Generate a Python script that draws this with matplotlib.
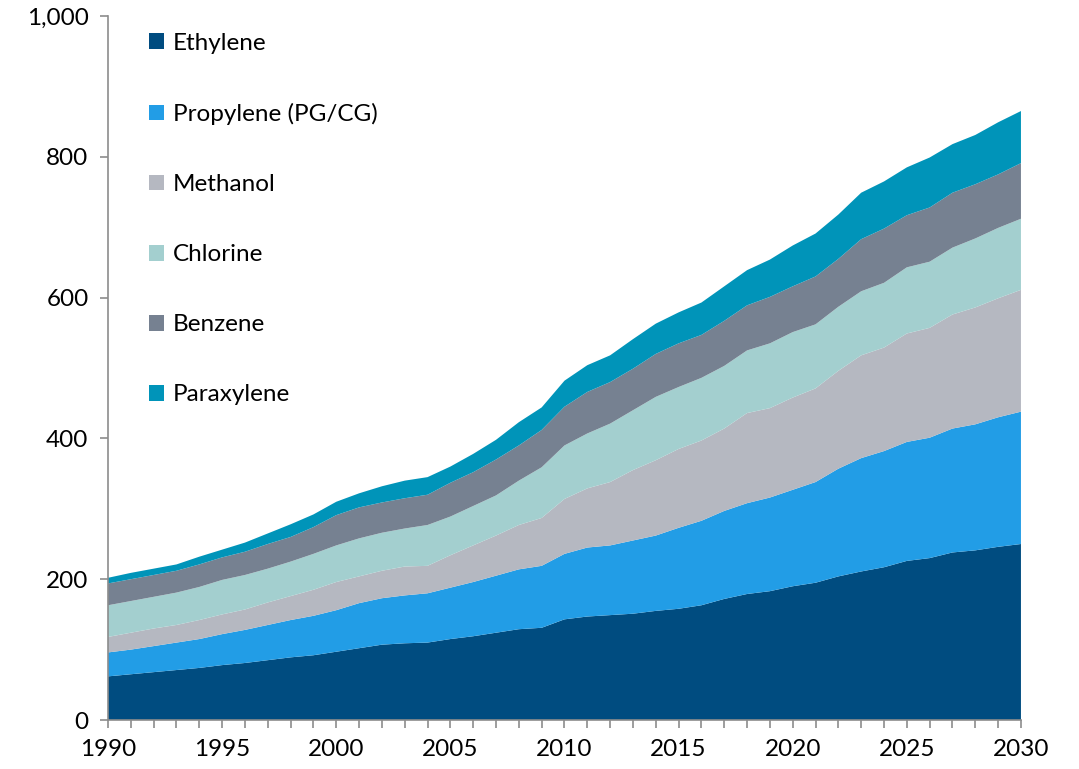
import numpy as np
import matplotlib
matplotlib.use("Agg")
import matplotlib.pyplot as plt
from matplotlib.patches import Patch
from matplotlib.ticker import FuncFormatter, MultipleLocator

plt.rcParams['font.family'] = ['Lato', 'DejaVu Sans']

years = list(range(1990, 2031))

ethylene = [62, 65, 68, 71, 74, 78, 81, 85, 89, 92, 97, 102, 107, 109, 110, 115, 119, 124, 129, 131,
            143, 147, 149, 151, 155, 158, 163, 172, 179, 183, 190, 195, 204, 211, 217, 226, 230, 238, 241, 246, 250]
propylene = [34, 35, 37, 39, 41, 44, 47, 50, 53, 56, 59, 64, 66, 68, 70, 73, 77, 81, 85, 88,
             93, 98, 99, 104, 107, 115, 120, 125, 129, 133, 137, 143, 153, 161, 165, 169, 171, 176, 179, 184, 188]
methanol = [22, 24, 25, 25, 27, 28, 29, 32, 34, 37, 40, 38, 39, 41, 39, 46, 52, 57, 63, 68,
            78, 84, 90, 100, 107, 112, 114, 117, 128, 127, 131, 133, 139, 146, 147, 154, 156, 162, 166, 169, 173]
chlorine = [45, 45, 45, 46, 47, 49, 49, 48, 49, 51, 52, 54, 54, 54, 58, 55, 56, 57, 63, 72,
            76, 78, 83, 85, 90, 88, 89, 89, 89, 92, 93, 91, 91, 91, 92, 94, 94, 95, 98, 100, 101]
benzene = [31, 31, 31, 31, 32, 32, 33, 35, 35, 38, 43, 44, 43, 43, 43, 48, 48, 51, 50, 53,
           55, 59, 59, 59, 61, 62, 61, 64, 64, 66, 65, 68, 68, 74, 77, 74, 77, 78, 77, 76, 79]
paraxylene = [8, 9, 9, 9, 11, 11, 13, 15, 18, 18, 19, 20, 23, 25, 25, 23, 26, 28, 33, 32,
              37, 38, 38, 42, 43, 44, 46, 49, 50, 53, 58, 61, 63, 66, 67, 68, 71, 69, 70, 74, 74]

labels = ["Ethylene", "Propylene (PG/CG)", "Methanol", "Chlorine", "Benzene", "Paraxylene"]
colors = ["#004c80", "#229de6", "#b5b8c1", "#a3cfcf", "#768191", "#0094b9"]

fig = plt.figure(figsize=(10.79, 7.69), dpi=100)
ax = fig.add_axes([0.1001, 0.0637, 0.8461, 0.9155])

ax.stackplot(years, ethylene, propylene, methanol, chlorine, benzene, paraxylene,
             colors=colors, linewidth=0)

ax.set_xlim(1990, 2030)
ax.set_ylim(0, 1000)
ax.xaxis.set_major_locator(MultipleLocator(5))
ax.xaxis.set_minor_locator(MultipleLocator(1))
ax.yaxis.set_major_locator(MultipleLocator(200))
ax.yaxis.set_major_formatter(FuncFormatter(lambda v, p: f"{int(v):,}"))

for s in ["top", "right"]:
    ax.spines[s].set_visible(False)
for s in ["left", "bottom"]:
    ax.spines[s].set_color("#8c8c8c")
    ax.spines[s].set_linewidth(1.2)

ax.tick_params(axis="both", which="both", direction="out", length=6, width=1.2,
               color="#8c8c8c", labelsize=17.5, labelcolor="black")
ax.tick_params(axis="y", pad=8)
ax.tick_params(axis="x", pad=8)

handles = [Patch(facecolor=c, label=l) for c, l in zip(colors, labels)]
ax.legend(handles=handles, loc="upper left", bbox_to_anchor=(0.045, 0.976),
          frameon=False, fontsize=17.5, handlelength=0.62, handleheight=0.62,
          handletextpad=0.35, labelspacing=2.02, borderaxespad=0, borderpad=0)

fig.savefig("out.png", dpi=100)
